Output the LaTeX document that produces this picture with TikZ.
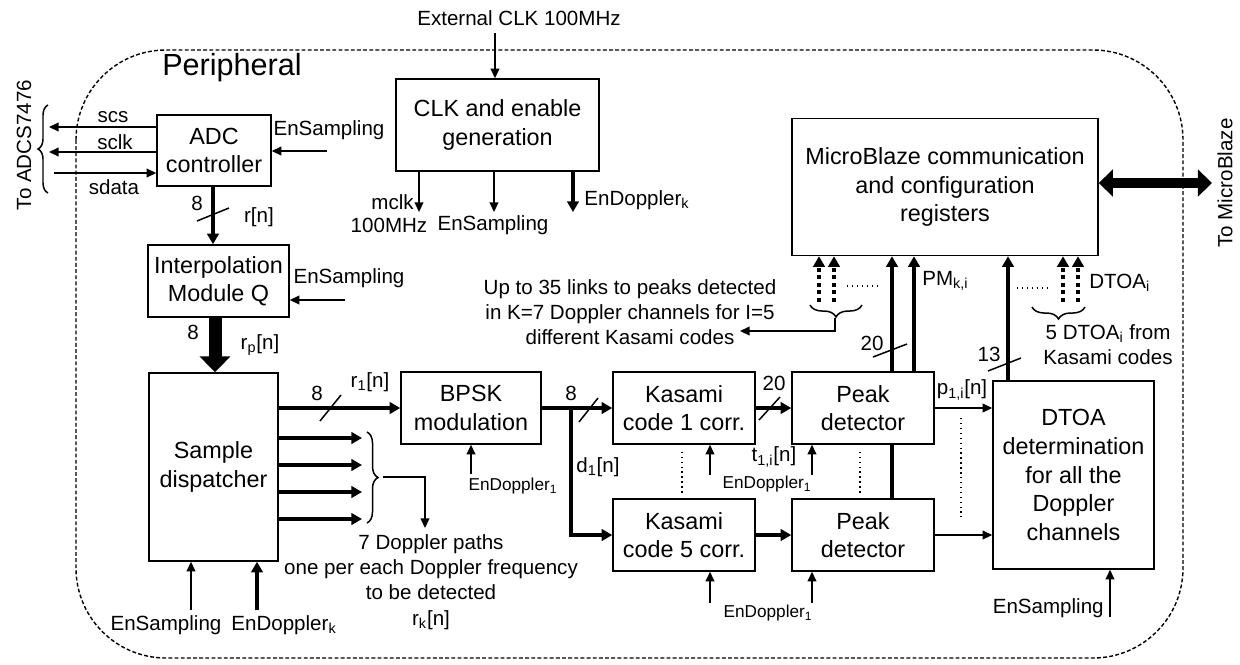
\documentclass[tikz,border=0pt]{standalone}
\usepackage{fontspec}
\setmainfont{Liberation Sans}
\usetikzlibrary{arrows.meta,decorations.pathreplacing}
\newcommand\myboxfont{\fontsize{13.3}{16.2}\selectfont}
\newcommand\mylabfont{\fontsize{11.7}{14.1}\selectfont}
\newcommand\mysmallfont{\fontsize{9.8}{12}\selectfont}
\newcommand\mybigfont{\fontsize{17.4}{20}\selectfont}
\begin{document}
\begin{tikzpicture}[x=0.02cm,y=-0.02cm,
  box/.style 2 args={draw,line width=0.85pt,minimum width=#1*0.02cm,minimum height=#2*0.02cm,inner sep=0pt,align=center,font=\myboxfont},
  lab/.style={inner sep=0pt,align=center,font=\mylabfont},
  small/.style={inner sep=0pt,align=center,font=\mysmallfont},
  arr/.style={line width=0.85pt,-{Triangle[length=5.5pt,width=5pt]}},
  tharr/.style={line width=2.3pt,-{Triangle[length=6pt,width=6.5pt]}},
  thline/.style={line width=2.3pt},
  dotarr/.style={line width=2.3pt,dash pattern=on 2.3pt off 2pt,-{Triangle[length=6pt,width=6.5pt]}},
  slash/.style={line width=0.85pt},
  curly/.style={decorate,line width=0.85pt,decoration={brace,amplitude=#1*0.02cm}},
]
\useasboundingbox (0,0) rectangle (1240,664);

% peripheral border
\draw[line width=0.8pt,dash pattern=on 2.2pt off 1.3pt,rounded corners=1.8cm] (76,50) rectangle (1183,658);
\node[inner sep=0pt,font=\mybigfont] (periph) at (232,68) {Peripheral};

% boxes
\node[box={114}{71}] (adc) at (214,150.5) {ADC\\controller};
\node[box={203}{92}] (clk) at (497.5,125) {CLK and enable\\generation};
\node[box={306}{137}] (mb) at (945,187) {MicroBlaze communication\\and configuration\\registers};
\node[box={141}{72}] (interp) at (218.5,281) {Interpolation\\Module Q};
\node[box={129}{188}] (disp) at (213.5,467) {Sample\\dispatcher};
\node[box={140}{72}] (bpsk) at (471,408) {BPSK\\modulation};
\node[box={142}{72}] (kas1) at (684,408) {Kasami\\code 1 corr.};
\node[box={142}{72}] (kas5) at (684,535) {Kasami\\code 5 corr.};
\node[box={142}{72}] (peak1) at (863,408) {Peak\\detector};
\node[box={142}{72}] (peak5) at (863,535) {Peak\\detector};
\node[box={161}{188},font=\fontsize{13.3}{16.4}\selectfont] (dtoa) at (1073.5,475) {DTOA\\determination\\for all the\\Doppler\\channels};

% ADC side
\node[lab,rotate=90] (tadc) at (24,145) {To ADCS7476};
\draw[curly=10] (48,193) -- (48,105);
\coordinate (scs) at (49,127);
\coordinate (sclk) at (49,152);
\coordinate (sdata) at (54,173);
\draw[arr] (scs -| adc.west) -- (scs);
\draw[arr] (sclk -| adc.west) -- (sclk);
\draw[arr] (sdata) -- (sdata -| adc.west);
\node[lab] (lscs) at (113,117) {scs};
\node[lab] (lsclk) at (115,142) {sclk};
\node[lab] (lsdata) at (114,187) {sdata};
\coordinate (adcen) at (327,151);
\draw[arr] (adcen) -- (adcen -| adc.east);
\node[lab] (ladcen) at (329,130) {EnSampling};
\coordinate (adcout) at (213,0);
\draw[tharr] (adcout |- adc.south) -- (adcout |- interp.north);
\draw[slash] (197,221) -- (229,208);
\node[lab] (l8a) at (197,203) {8};
\node[lab] (lrn) at (259,217) {r[n]};

% interpolation
\coordinate (inen) at (345,300);
\draw[arr] (inen) -- (inen -| interp.east);
\node[lab] (linen) at (349,278) {EnSampling};
\coordinate (inout) at (215,0);
\draw[line width=7.4pt,-{Triangle[length=9pt,width=17pt]}] (inout |- interp.south) -- (inout |- disp.north);
\node[lab] (l8b) at (193,332) {8};
\node[lab] (lrp) at (260,345) {r\textsubscript{p}[n]};

% CLK
\node[lab] (ext) at (519,18) {External CLK 100MHz};
\coordinate (extin) at (495,33);
\draw[arr] (extin) -- (extin |- clk.north);
\coordinate (mclk) at (419,212);
\coordinate (clken) at (494,212);
\coordinate (clkdop) at (573,212);
\draw[arr] (mclk |- clk.south) -- (mclk);
\draw[arr] (clken |- clk.south) -- (clken);
\draw[tharr] (clkdop |- clk.south) -- (clkdop);
\node[lab,anchor=east] (lmclk) at (414,202) {mclk};
\node[lab] (l100) at (389,225) {100MHz};
\node[lab] (lclken) at (493,225) {EnSampling};
\node[lab,anchor=west] (lclkdop) at (584,200) {EnDoppler\textsubscript{k}};

% MicroBlaze
\coordinate (mbout) at (1212,183);
\draw[line width=5.5pt,{Triangle[length=8pt,width=15pt]}-{Triangle[length=8pt,width=15pt]}] (mbout -| mb.east) -- (mbout);
\node[lab,rotate=90] (tmb) at (1225,183) {To MicroBlaze};

% Sample dispatcher
\draw[tharr] (disp.east |- bpsk.west) -- (bpsk.west);
\draw[slash] (320,421) -- (341,395);
\node[lab] (l8c) at (317,393) {8};
\node[lab] (lr1) at (370,382) {r\textsubscript{1}[n]};
\foreach \yy [count=\i] in {438,465,492,519} {
  \coordinate (dp\i) at (362,\yy);
  \draw[tharr] (dp\i -| disp.east) -- (dp\i);
}
\draw[curly=11] (367,432) -- (367,523);
\coordinate (brt) at (383,477);
\coordinate (brd) at (425,528);
\draw[arr] (brt) -| (brd);
\node[lab,font=\fontsize{11.7}{14.3}\selectfont] (lpaths) at (431,582) {7 Doppler paths\\one per each Doppler frequency\\to be detected\\r\textsubscript{k}[n]};
\coordinate (dspen) at (191,610);
\coordinate (dspdop) at (257,610);
\draw[arr] (dspen) -- (dspen |- disp.south);
\draw[tharr] (dspdop) -- (dspdop |- disp.south);
\node[lab] (ldspen) at (166,625) {EnSampling};
\node[lab] (ldspdop) at (284,625) {EnDoppler\textsubscript{k}};

% BPSK
\coordinate (bpen) at (471,474);
\draw[arr] (bpen) -- (bpsk.south);
\node[small] (lbpen) at (513,486) {EnDoppler\textsubscript{1}};
\draw[tharr] (bpsk.east) -- (kas1.west);
\draw[slash] (579,422) -- (598,398);
\node[lab] (l8d) at (571,393) {8};
\coordinate (br) at (571,408);
\draw[tharr] (br) |- (kas5.west);
\node[lab] (ld1) at (598,467) {d\textsubscript{1}[n]};

% Kasami
\draw[dotted,line width=0.8pt,shorten <=4pt,shorten >=3pt] ([xshift=-0.04cm]kas1.south) -- ([xshift=-0.04cm]kas5.north);
\coordinate (k1en) at (710,475);
\coordinate (k5en) at (710,603);
\draw[arr] (k1en) -- (k1en |- kas1.south);
\draw[arr] (k5en) -- (k5en |- kas5.south);
\node[small] (lk1en) at (767,484) {EnDoppler\textsubscript{1}};
\node[small] (lk5en) at (768,613) {EnDoppler\textsubscript{1}};
\draw[tharr] (kas1.east) -- (peak1.west);
\draw[slash] (759,420) -- (780,397);
\node[lab] (l20a) at (774,383) {20};
\node[lab] (lt1) at (774,457) {t\textsubscript{1,i}[n]};
\draw[tharr] (kas5.east) -- (peak5.west);

% Peak detectors
\draw[dotted,line width=0.8pt,shorten <=4pt,shorten >=3pt] ([xshift=-0.06cm]peak1.south) -- ([xshift=-0.06cm]peak5.north);
\coordinate (p1en) at (812,475);
\coordinate (p5en) at (812,603);
\draw[arr] (p1en) -- (p1en |- peak1.south);
\draw[arr] (p5en) -- (p5en |- peak5.south);
\coordinate (pmA) at (892,0);
\coordinate (pmB) at (914,0);
\draw[thline] (pmA |- peak5.north) -- (pmA |- peak1.south);
\draw[tharr] (pmA |- peak1.north) -- (pmA |- mb.south);
\draw[tharr] (pmB |- peak1.north) -- (pmB |- mb.south);
\draw[slash] (873,357) -- (907,344);
\node[lab] (l20b) at (872,343) {20};
\node[lab,anchor=west] (lpm) at (922,281) {PM\textsubscript{k,i}};
\draw[arr] (peak1.east) -- (peak1.east -| dtoa.west);
\draw[arr] (peak5.east) -- (peak5.east -| dtoa.west);
\node[lab] (lp1) at (962,390) {p\textsubscript{1,i}[n]};
\draw[dotted,line width=0.8pt] (961,418) -- (961,517);

% links to MB
\coordinate (lkA) at (819,302);
\coordinate (lkB) at (834,302);
\draw[dotarr] (lkA) -- (lkA |- mb.south);
\draw[dotarr] (lkB) -- (lkB |- mb.south);
\draw[dotted,line width=0.8pt] (847,286) -- (878,286);
\draw[curly=12] (862,305) -- (810,305);
\node[lab] (lup) at (630,312) {Up to 35 links to peaks detected\\in K=7 Doppler channels for I=5\\different Kasami codes};
\coordinate (bt1) at (835,318);
\coordinate (uparr) at (740,331);
\draw[arr] (bt1) |- (uparr);

% DTOA
\coordinate (dtA) at (1008,0);
\draw[tharr] (dtA |- dtoa.north) -- (dtA |- mb.south);
\draw[slash] (988,371) -- (1021,358);
\node[lab] (l13) at (989,354) {13};
\coordinate (dlA) at (1063,302);
\coordinate (dlB) at (1078,302);
\draw[dotarr] (dlA) -- (dlA |- mb.south);
\draw[dotarr] (dlB) -- (dlB |- mb.south);
\draw[dotted,line width=0.8pt] (1017,288) -- (1048,288);
\node[lab,anchor=west] (ldtoai) at (1089,283) {DTOA\textsubscript{i}};
\draw[curly=12] (1085,307) -- (1032,307);
\node[lab,font=\fontsize{11.7}{14.3}\selectfont] (l5dtoa) at (1108,345) {5 DTOA\textsubscript{i} from\\Kasami codes};
\coordinate (dten) at (1110,617);
\draw[arr] (dten) -- (dten |- dtoa.south);
\node[lab,anchor=east] (ldten) at (1104,608) {EnSampling};
\end{tikzpicture}
\end{document}
